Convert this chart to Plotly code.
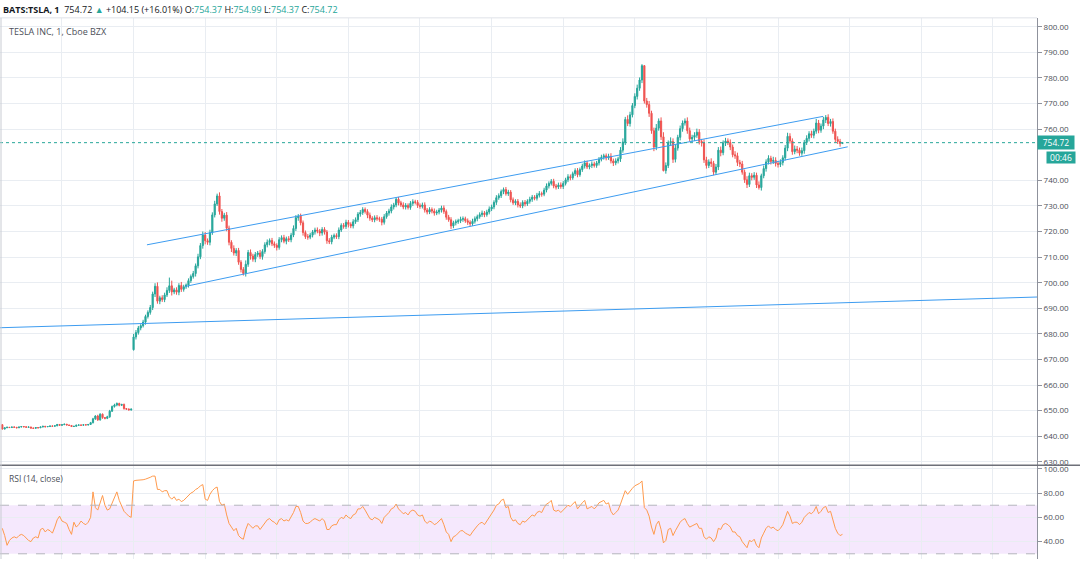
import plotly.graph_objects as go

# ---------------- data ----------------
closes = [
    642.8, 643.3, 643.5, 643.4, 643.6, 643.5, 643.3, 643.6, 643.8, 643.7,
    643.5, 643.6, 643.2, 643.1, 643.4, 643.3, 643.6, 643.9, 643.7, 643.8,
    644.0, 643.9, 644.1, 644.6, 644.3, 644.5, 644.7, 644.4, 644.2, 643.8,
    643.9, 644.3, 644.4, 644.3, 644.5, 644.4, 644.6, 645.3, 646.8, 647.9,
    646.4, 648.6, 647.3, 647.0, 647.6, 649.8, 651.6, 652.2, 652.8, 652.1,
    652.4, 650.8, 650.6, 650.3, 650.6,
    678.8, 680.5, 682.3, 683.2, 684.6, 686.8, 688.4, 690.3, 695.6, 698.6,
    692.8, 694.1, 693.4, 695.2, 697.0, 698.8, 696.4, 697.2, 696.3, 698.9,
    697.4, 698.4, 699.1, 700.8, 702.4, 703.6, 706.6, 710.1, 714.5, 718.6,
    716.4, 715.8, 719.6, 726.5, 730.8, 733.9, 727.8, 725.2, 726.4, 721.3,
    715.8, 713.4, 711.6, 712.6, 708.0, 705.2, 703.6, 707.2, 711.8, 710.4,
    709.2, 711.0, 711.6, 710.2, 712.2, 714.8, 715.8, 716.5, 715.2, 714.6,
    713.8, 716.8, 717.6, 716.2, 717.2, 716.8, 718.6, 721.2, 725.4, 726.0,
    723.4, 719.6, 718.0, 717.8, 718.6, 719.8, 720.6, 720.2, 719.4, 720.8,
    719.8, 716.4, 716.0, 717.8, 718.4, 718.0, 720.6, 722.4, 722.0, 723.6,
    722.8, 722.2, 723.8, 724.6, 726.8, 727.4, 728.6, 727.8, 726.4, 725.2,
    724.6, 725.4, 725.0, 724.8, 723.6, 725.8, 727.2, 728.0, 729.6, 730.4,
    732.6, 731.2, 730.4, 729.6, 730.2, 729.4, 731.0, 731.6, 731.4, 730.2,
    729.8, 730.4, 728.4, 727.6, 728.6, 728.0, 727.2, 727.6, 728.4, 729.2,
    727.8, 725.6, 724.6, 722.2, 723.4, 723.8, 724.2, 724.8, 725.0, 724.2,
    723.6, 723.0, 724.0, 725.0, 725.8, 726.6, 727.2, 726.6, 727.6, 728.8,
    729.6, 731.4, 733.2, 734.0, 735.6, 736.4, 734.8, 735.4, 732.4, 731.2,
    731.8, 730.4, 730.0, 731.4, 730.8, 731.8, 732.6, 733.4, 733.0, 734.2,
    734.8, 734.6, 736.2, 737.8, 738.8, 739.6, 737.8, 737.4, 738.2, 737.6,
    738.8, 740.2, 741.4, 741.0, 742.6, 743.8, 742.2, 744.2, 745.6, 746.8,
    745.2, 745.8, 746.4, 745.8, 746.8, 748.2, 749.0, 749.6, 748.8, 749.4,
    747.6, 746.8, 747.6, 748.4, 751.8, 755.0, 763.8, 762.2, 765.6, 769.2,
    772.8, 776.0, 779.2, 784.8, 771.0, 769.6, 766.2, 759.4, 753.0, 760.4,
    763.2, 757.0, 743.8, 745.8, 754.6, 755.2, 748.2, 752.6, 756.8, 760.2,
    762.4, 763.2, 759.4, 756.2, 756.8, 757.6, 758.8, 755.2, 754.6, 748.0,
    745.8, 747.2, 746.6, 743.2, 745.2, 751.8, 750.8, 754.6, 755.4, 754.8,
    753.0, 750.0, 749.6, 747.0, 746.4, 743.2, 740.2, 738.4, 741.8, 741.2,
    742.0, 738.2, 737.2, 741.8, 744.6, 747.2, 748.6, 747.4, 747.8, 746.6,
    746.2, 747.0, 748.8, 752.6, 757.2, 755.4, 751.2, 752.2, 751.8, 750.6,
    751.6, 754.8, 756.4, 758.2, 757.6, 759.2, 762.4, 759.6, 761.2, 763.6,
    764.6, 762.2, 763.0, 759.2, 756.0, 755.2, 754.37, 754.72,
]

# upper / lower wick lengths, in tenths of a dollar
wick_up = [
    2, 1, 2, 1, 1, 2, 1, 1, 2, 1,
    1, 2, 1, 1, 2, 1, 2, 1, 1, 2,
    1, 2, 1, 2, 1, 1, 2, 1, 1, 2,
    1, 2, 1, 1, 2, 1, 1, 3, 4, 3,
    5, 4, 3, 2, 4, 5, 4, 5, 4, 3,
    3, 4, 2, 3, 2,
    12, 10, 8, 6, 9, 7, 8, 10, 9, 12,
    15, 8, 10, 9, 12, 32, 20, 8, 10, 9,
    14, 8, 6, 9, 8, 10, 9, 12, 10, 14,
    12, 9, 11, 10, 12, 9, 14, 10, 9, 12,
    10, 8, 12, 9, 10, 8, 9, 15, 10, 12,
    9, 10, 8, 12, 9, 10, 11, 8, 10, 9,
    8, 10, 9, 11, 8, 10, 9, 12, 10, 8,
    10, 9, 8, 10, 9, 8, 9, 10, 8, 9,
    9, 8, 10, 9, 8, 9, 10, 8, 9, 10,
    9, 8, 10, 9, 8, 10, 9, 8, 9, 10,
    8, 9, 10, 8, 9, 10, 8, 9, 10, 8,
    6, 9, 8, 10, 9, 8, 9, 10, 8, 9,
    8, 9, 10, 8, 9, 8, 10, 9, 8, 9,
    10, 8, 9, 10, 8, 9, 8, 10, 9, 8,
    9, 8, 10, 9, 8, 9, 10, 8, 9, 10,
    9, 8, 10, 9, 8, 8, 10, 9, 8, 9,
    8, 9, 10, 8, 9, 8, 10, 9, 8, 9,
    10, 8, 9, 10, 8, 9, 10, 8, 9, 10,
    9, 8, 10, 9, 8, 9, 10, 8, 9, 10,
    9, 8, 10, 9, 8, 9, 10, 8, 9, 10,
    12, 9, 10, 8, 12, 14, 10, 16, 12, 10,
    12, 14, 10, 6, 2, 12, 14, 10, 12, 16,
    10, 14, 18, 12, 10, 16, 12, 14, 10, 12,
    10, 10, 14, 12, 10, 12, 14, 12, 10, 14,
    12, 10, 14, 10, 12, 12, 14, 10, 12, 10,
    12, 10, 14, 12, 10, 12, 10, 14, 12, 10,
    12, 10, 14, 8, 12, 10, 12, 10, 14, 12,
    10, 12, 10, 12, 14, 12, 10, 14, 12, 10,
    12, 10, 12, 10, 12, 10, 16, 12, 10, 12,
    9, 12, 10, 12, 10, 12, 10, 2.7,
]
wick_dn = [
    2, 1, 1, 2, 1, 1, 2, 1, 1, 2,
    1, 1, 2, 1, 1, 2, 1, 1, 2, 1,
    2, 1, 1, 2, 1, 2, 1, 1, 2, 1,
    2, 1, 1, 2, 1, 1, 2, 1, 3, 4,
    4, 3, 5, 4, 3, 4, 3, 4, 5, 4,
    3, 4, 3, 2, 3,
    3, 10, 8, 9, 7, 10, 8, 9, 10, 12,
    10, 12, 9, 10, 8, 10, 14, 9, 10, 12,
    10, 9, 8, 10, 9, 8, 12, 10, 9, 12,
    14, 10, 12, 9, 10, 8, 12, 14, 10, 12,
    12, 14, 10, 12, 10, 12, 8, 12, 10, 14,
    10, 12, 9, 10, 12, 9, 10, 12, 9, 10,
    12, 9, 10, 8, 12, 9, 10, 8, 10, 12,
    10, 12, 9, 10, 8, 9, 10, 9, 12, 10,
    10, 12, 9, 10, 8, 9, 10, 8, 9, 10,
    12, 9, 10, 8, 9, 10, 9, 8, 12, 10,
    9, 10, 8, 10, 12, 9, 8, 10, 9, 10,
    9, 10, 8, 9, 10, 8, 9, 10, 8, 10,
    9, 8, 10, 9, 8, 9, 10, 8, 9, 10,
    9, 10, 8, 12, 9, 10, 8, 9, 10, 8,
    10, 9, 8, 9, 10, 8, 9, 10, 8, 9,
    8, 9, 10, 8, 9, 10, 8, 9, 10, 8,
    9, 10, 8, 9, 10, 8, 9, 10, 8, 9,
    9, 10, 8, 9, 10, 8, 9, 10, 8, 9,
    10, 8, 9, 10, 8, 9, 10, 8, 9, 10,
    8, 9, 10, 8, 9, 10, 8, 9, 10, 8,
    10, 12, 9, 10, 12, 10, 12, 10, 12, 10,
    10, 12, 10, 12, 10, 12, 14, 12, 16, 12,
    10, 12, 3, 12, 10, 12, 14, 12, 10, 12,
    12, 10, 12, 10, 12, 14, 10, 12, 14, 12,
    12, 10, 14, 12, 10, 12, 14, 10, 12, 10,
    12, 10, 12, 14, 12, 10, 12, 14, 10, 12,
    10, 12, 8, 12, 10, 12, 10, 12, 10, 12,
    12, 10, 12, 10, 12, 10, 12, 10, 12, 10,
    10, 12, 10, 12, 10, 12, 10, 12, 10, 12,
    12, 10, 12, 10, 12, 10, 12, 0,
]

rsi = [
    51, 45, 37, 41, 43, 44, 43, 45, 46, 45,
    43, 41, 40, 43, 44, 43, 50, 51, 48, 50,
    49, 47, 52, 58, 61, 57, 56, 55, 50, 46,
    56, 52, 54, 57, 55, 54, 56, 60, 81, 68,
    66, 72, 78, 70, 66, 67, 72, 77, 81, 74,
    70, 65, 63, 61, 60,
    90, 90.5, 90.5, 91, 91, 91.5, 92, 93, 94, 94,
    83, 83, 81, 82, 82, 77, 75, 77, 74, 75,
    73, 74, 76, 78, 80, 81, 83, 84, 86, 87,
    75, 74, 79, 82, 84, 85, 73, 70, 71, 62,
    55, 52, 49, 51, 45, 43, 42, 50, 55, 53,
    51, 53, 53, 50, 53, 56, 58, 59, 57, 56,
    54, 58, 59, 57, 58, 57, 60, 64, 69, 69,
    64, 57, 55, 55, 56, 58, 59, 58, 57, 59,
    57, 50, 50, 53, 54, 54, 58, 60, 59, 62,
    60, 59, 62, 63, 67, 67, 69, 66, 62, 59,
    58, 60, 59, 58, 55, 60, 62, 64, 67, 68,
    71, 67, 65, 63, 64, 62, 65, 66, 65, 62,
    61, 62, 57, 55, 57, 56, 54, 55, 57, 59,
    54, 48, 46, 40, 44, 45, 47, 49, 49, 47,
    46, 45, 48, 51, 53, 55, 56, 54, 57, 60,
    62, 66, 70, 71, 74, 75, 68, 69, 60, 57,
    58, 55, 54, 57, 56, 58, 60, 62, 61, 64,
    65, 64, 68, 71, 72, 74, 66, 65, 66, 64,
    66, 68, 70, 69, 71, 73, 67, 70, 72, 74,
    67, 68, 69, 67, 69, 72, 73, 74, 71, 72,
    65, 62, 64, 66, 71, 76, 82, 79, 82, 84,
    86, 87, 88, 90, 68, 66, 61, 52, 46, 54,
    57, 50, 39, 41, 50, 51, 45, 49, 53, 56,
    58, 59, 55, 52, 53, 54, 55, 51, 51, 44,
    42, 44, 43, 40, 43, 51, 50, 54, 55, 54,
    52, 48, 48, 45, 44, 40, 37, 35, 41, 40,
    42, 37, 35, 43, 47, 51, 53, 51, 52, 50,
    49, 51, 54, 60, 65, 61, 55, 56, 56, 54,
    56, 60, 62, 64, 63, 65, 69, 63, 65, 68,
    69, 64, 65, 57, 51, 47, 45, 46,
]

first_open = 644.5
gap_index = 55          # first bar of the new session
gap_open = 673.8
last_price = 754.72
countdown = "00:46"

# drawn trend lines: (bar index, price) pairs
upper_channel = ([60.6, 343.9], [714.8, 765.0])
lower_channel = ([76.5, 354.2], [698.5, 753.1])
long_line = ([-0.96, 433.5], [682.4, 694.4])

price_ticks = [630, 640, 650, 660, 670, 680, 690, 700, 710, 720, 730,
               740, 760, 770, 780, 790, 800]
rsi_ticks = [40, 60, 80, 100]
rsi_upper, rsi_lower = 70, 30

header = ("<b>BATS:TSLA, 1</b>  754.72 <span style='color:#26a69a'>▲</span> "
          "+104.15 (+16.01%) O:<span style='color:#26a69a'>754.37</span> "
          "H:<span style='color:#26a69a'>754.99</span> "
          "L:<span style='color:#26a69a'>754.37</span> "
          "C:<span style='color:#26a69a'>754.72</span>")
title_text = "TESLA INC, 1, Cboe BZX"
rsi_title = "RSI (14, close)"

# ---------------- derived OHLC ----------------
n = len(closes)
bars = list(range(n))
opens = [first_open] + closes[:-1]
opens[gap_index] = gap_open
highs = [max(o, c) + u / 10 for o, c, u in zip(opens, closes, wick_up)]
lows = [min(o, c) - d / 10 for o, c, d in zip(opens, closes, wick_dn)]

# ---------------- figure ----------------
W, H = 1080, 561
XD = 1037 / W
UP, DOWN = "#26a69a", "#ef5350"
GRID = "#e9edf2"
AXC = "#8f929c"
TXT = "#4c4f58"
FONT = "Open Sans, sans-serif"
LINE = "#3d9cf0"

fig = go.Figure()
fig.add_trace(go.Candlestick(
    x=bars, open=opens, high=highs, low=lows, close=closes,
    increasing=dict(line=dict(color=UP, width=1), fillcolor=UP),
    decreasing=dict(line=dict(color=DOWN, width=1), fillcolor=DOWN),
    whiskerwidth=0, xaxis="x", yaxis="y", hoverinfo="skip"))

for xs, ys in (upper_channel, lower_channel, long_line):
    fig.add_trace(go.Scatter(x=xs, y=ys, mode="lines",
                             line=dict(color=LINE, width=1),
                             xaxis="x", yaxis="y", hoverinfo="skip"))

fig.add_trace(go.Scatter(x=bars, y=rsi, mode="lines",
                         line=dict(color="#ff9a4d", width=1),
                         xaxis="x2", yaxis="y2", hoverinfo="skip"))

main_dom = [1 - 466 / H, 1 - 15 / H]
rsi_dom = [0, 1 - 467 / H]
xr = [-0.96, 433.5]

fig.update_layout(
    width=W, height=H, margin=dict(l=0, r=0, t=0, b=0),
    paper_bgcolor="white", plot_bgcolor="white", showlegend=False,
    font=dict(family=FONT, size=9, color=TXT),
    xaxis=dict(domain=[0, XD], range=xr, showticklabels=False, showgrid=True,
               gridcolor=GRID, tick0=25, dtick=30, zeroline=False,
               rangeslider=dict(visible=False), anchor="y", showline=False),
    yaxis=dict(domain=main_dom, range=[628.82, 803.49], side="right",
               tickvals=price_ticks,
               ticktext=[f"{v:.2f}" for v in price_ticks],
               showgrid=True, gridcolor=GRID, ticks="outside", ticklen=4,
               tickcolor=AXC, showline=True, linecolor=AXC, linewidth=1,
               zeroline=False, anchor="x",
               tickfont=dict(family=FONT, size=8, color=TXT)),
    xaxis2=dict(domain=[0, XD], range=xr, matches="x", showticklabels=False,
                showgrid=True, gridcolor=GRID, tick0=25, dtick=30,
                zeroline=False, anchor="y2"),
    yaxis2=dict(domain=rsi_dom, range=[25.71, 102.45], side="right",
                tickvals=rsi_ticks, ticktext=[f"{v:.2f}" for v in rsi_ticks],
                showgrid=True, gridcolor=GRID, ticks="outside", ticklen=4,
                tickcolor=AXC, showline=True, linecolor=AXC, linewidth=1,
                zeroline=False, anchor="x2",
                tickfont=dict(family=FONT, size=8, color=TXT)),
)

shapes = [
    # RSI band
    dict(type="rect", xref="paper", yref="y2", x0=0, x1=XD, y0=rsi_lower,
         y1=rsi_upper, fillcolor="rgba(196,120,245,0.17)", line=dict(width=0),
         layer="below"),
    dict(type="line", xref="paper", yref="y2", x0=0, x1=XD, y0=rsi_upper,
         y1=rsi_upper, line=dict(color="#b4b6bd", width=1, dash="dash")),
    dict(type="line", xref="paper", yref="y2", x0=0, x1=XD, y0=rsi_lower,
         y1=rsi_lower, line=dict(color="#b4b6bd", width=1, dash="dash")),
    # last price line
    dict(type="line", xref="paper", yref="y", x0=0, x1=XD, y0=last_price,
         y1=last_price, line=dict(color=UP, width=1, dash="dot")),
    # pane separator / borders
    dict(type="line", xref="paper", yref="paper", x0=0, x1=1,
         y0=1 - 466.5 / H, y1=1 - 466.5 / H, line=dict(color="#6e7079", width=1.5)),
    dict(type="line", xref="paper", yref="paper", x0=0, x1=XD,
         y0=1 - 15 / H, y1=1 - 15 / H, line=dict(color="#dfe2e8", width=1)),
    dict(type="line", xref="paper", yref="paper", x0=1 / W, x1=1 / W,
         y0=0, y1=1 - 15 / H, line=dict(color="#c9ccd3", width=1)),
]
fig.update_layout(shapes=shapes)

annotations = [
    dict(xref="paper", yref="paper", x=1 / W, y=1 - 7 / H, xanchor="left",
         yanchor="middle", text=header, showarrow=False,
         font=dict(family=FONT, size=9, color="#131722")),
    dict(xref="paper", yref="paper", x=7 / W, y=1 - 29 / H, xanchor="left",
         yanchor="middle", text=title_text, showarrow=False,
         font=dict(family=FONT, size=9, color=TXT)),
    dict(xref="paper", yref="paper", x=7 / W, y=1 - 480 / H, xanchor="left",
         yanchor="middle", text=rsi_title, showarrow=False,
         font=dict(family=FONT, size=8.5, color=TXT)),
    dict(xref="paper", yref="y", x=XD, y=last_price, xanchor="left",
         yanchor="middle", text=f"{last_price:.2f}", showarrow=False,
         bgcolor=UP, width=34, height=11, borderpad=1,
         font=dict(family=FONT, size=8.5, color="white")),
    dict(xref="paper", yref="paper", x=1046 / W, y=1 - 155.7 / H,
         xanchor="left", yanchor="middle", text=countdown, showarrow=False,
         bgcolor=UP, width=26, height=9, borderpad=1,
         font=dict(family=FONT, size=8.5, color="white")),
]
fig.update_layout(annotations=annotations)

fig.write_html("out.html")
